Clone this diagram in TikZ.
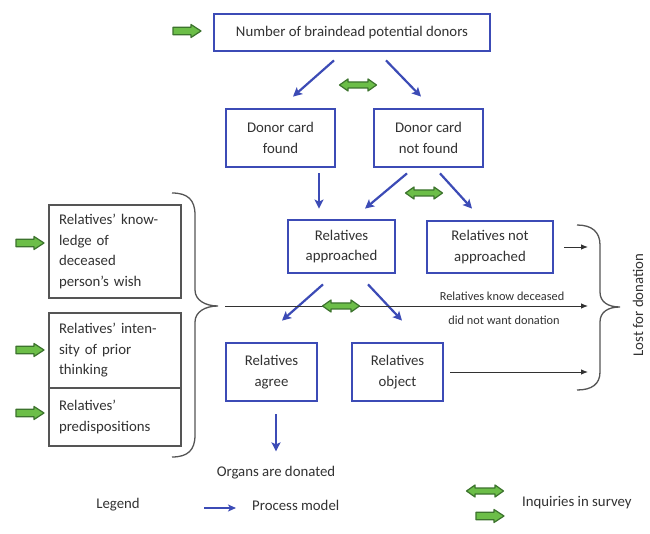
\documentclass[tikz,border=0pt]{standalone}
\usepackage{fontspec}
\setmainfont{Carlito}
\usetikzlibrary{arrows.meta,calc}
\definecolor{pblue}{RGB}{60,75,182}
\definecolor{txt}{RGB}{50,50,50}
\definecolor{gfill}{RGB}{108,190,72}
\definecolor{gline}{RGB}{60,115,45}
\definecolor{bline}{RGB}{85,85,85}
\tikzset{
  mainfont/.style={font=\fontsize{14.8}{20.5}\selectfont},
  bbox/.style={draw=pblue, line width=2.8pt, align=center, text=txt, mainfont, inner sep=0pt},
  gbox/.style={draw=bline, line width=1.3pt, align=left, text=txt, mainfont, text width=112pt, inner xsep=10pt, inner ysep=0pt},
  parr/.style={draw=pblue, line width=2.2pt, -{Stealth[length=9pt,width=9pt,inset=2pt]}},
  karr/.style={draw=txt, line width=0.9pt, -{Latex[length=7pt,width=5.5pt]}},
  lbl/.style={text=txt, mainfont, inner sep=0pt},
  slbl/.style={text=txt, font=\fontsize{12.3}{14}\selectfont, inner sep=0pt},
  brc/.style={draw=bline, line width=1.3pt},
  gdbl/.pic={\filldraw[draw=gline, fill=gfill, line width=1.2pt, line join=round]
    (-18.5,0) -- (-10,-6) -- (-10,-3) -- (10,-3) -- (10,-6) -- (18.5,0) -- (10,6) -- (10,3) -- (-10,3) -- (-10,6) -- cycle;},
  gsgl/.pic={\filldraw[draw=gline, fill=gfill, line width=1.2pt, line join=round]
    (-14,-3.8) -- (4,-3.8) -- (4,-6.5) -- (14,0) -- (4,6.5) -- (4,3.8) -- (-14,3.8) -- cycle;}
}
\begin{document}
\begin{tikzpicture}[x=1pt,y=-1pt]
\fill[white] (0,0) rectangle (650,534);
\path[use as bounding box] (0,0) rectangle (650,534);

% process boxes
\node[bbox, minimum width=276pt, minimum height=37pt] (top) at (352,32.5) {Number of braindead potential donors};
\node[bbox, minimum width=109pt, minimum height=58pt] (found) at (280.5,138) {Donor card\\found};
\node[bbox, minimum width=109pt, minimum height=58pt] (nfound) at (428.5,138) {Donor card\\not found};
\node[bbox, minimum width=107pt, minimum height=53pt] (appr) at (341.5,246.5) {Relatives\\approached};
\node[bbox, minimum width=126pt, minimum height=52pt] (napp) at (490,247) {Relatives not\\approached};
\node[bbox, minimum width=91pt, minimum height=58pt] (agree) at (271.5,372) {Relatives\\agree};
\node[bbox, minimum width=91pt, minimum height=58pt] (obj) at (397.5,372) {Relatives\\object};
\node[lbl] (organs) at (276,473) {Organs are donated};

% left factor boxes
\node[gbox, minimum height=93pt] (k1) at (115,251.5) {Relatives’ know-\\ledge of\\deceased\\person’s wish};
\node[gbox, minimum height=75pt] (k2) at (115,350.5) {Relatives’ inten-\\sity of prior\\thinking};
\node[gbox, minimum height=58pt] (k3) at (115,417) {Relatives’\\predispositions};

% process arrows
\draw[parr] ([shift={(-18,8)}]top.south) -- ([shift={(12.5,-11)}]found.north);
\draw[parr] ([shift={(34,8)}]top.south) -- ([shift={(-7.5,-11)}]nfound.north);
\draw[parr] ([shift={(38.5,5)}]found.south) -- ([shift={(-22.5,-10)}]appr.north);
\draw[parr] ([shift={(-21.5,5)}]nfound.south) -- ([shift={(23.5,-10)}]appr.north);
\draw[parr] ([shift={(11.5,5)}]nfound.south) -- ([shift={(-18,-11)}]napp.north);
\draw[parr] ([shift={(-18.5,10)}]appr.south) -- ([shift={(10.5,-21)}]agree.north);
\draw[parr] ([shift={(26.5,10)}]appr.south) -- ([shift={(4.5,-21)}]obj.north);
\draw[parr] ([shift={(4.5,12)}]agree.south) -- ([shift={(0,-15)}]organs.north);

% braces
\coordinate (lt) at (225,306);
\coordinate (rb) at (588,307);
\draw[brc] (172,193) .. controls (188,193) and (195,200) .. (195,215) -- (195,290)
  .. controls (195,300) and (205,306) .. (218,306)
  .. controls (205,306) and (195,312) .. (195,322) -- (195,435)
  .. controls (195,450) and (188,457) .. (172,457);
\draw[brc] (577,225) .. controls (592,225) and (600,232) .. (600,245) -- (600,292)
  .. controls (600,302) and (608,307) .. (620,307)
  .. controls (608,307) and (600,312) .. (600,322) -- (600,372)
  .. controls (600,384) and (592,390) .. (577,390);

% lost-for-donation arrows
\draw[karr] ([xshift=10pt]napp.east) -- (napp.east -| rb);
\draw[karr] (lt) -- (lt -| rb);
\draw[karr] ([xshift=6pt]obj.east) -- (obj.east -| rb);
\node[slbl] (know1) at (502,296) {Relatives know deceased};
\node[slbl] (know2) at (504,320) {did not want donation};
\node[lbl, rotate=90] (lost) at (638,305) {Lost for donation};

% survey inquiry arrows
\pic (g1) at (187,31) {gsgl};
\pic (d1) at (358,85) {gdbl};
\pic (d2) at (424,193) {gdbl};
\pic (d3) at (341,306) {gdbl};
\pic (g2) at (30,243) {gsgl};
\pic (g3) at (30,350) {gsgl};
\pic (g4) at (30,413) {gsgl};

% legend
\node[lbl] (leg) at (118,505) {Legend};
\coordinate (la) at (204,508);
\coordinate (lb) at (236,508);
\draw[draw=pblue, line width=1.8pt, -{Stealth[length=8pt,width=7pt,inset=2pt]}] (la) -- (lb);
\node[lbl, anchor=west] (pm) at (252,505) {Process model};
\pic (d4) at (485,491) {gdbl};
\pic (g5) at (490,516) {gsgl};
\node[lbl, anchor=west] (inq) at (522,503) {Inquiries in survey};
\end{tikzpicture}
\end{document}
